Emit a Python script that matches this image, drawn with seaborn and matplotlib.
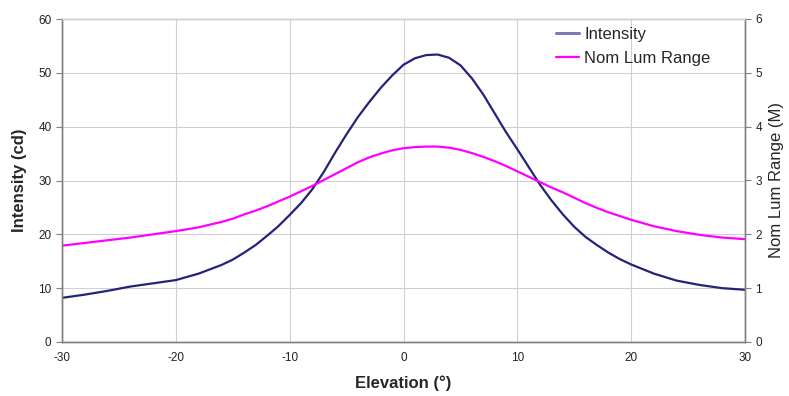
import matplotlib
matplotlib.use("Agg")
import matplotlib.pyplot as plt
import seaborn as sns
import pandas as pd
from matplotlib.lines import Line2D

elevation = [-30, -28, -26, -24, -22, -20, -18, -16, -15, -14, -13, -12, -11, -10, -9, -8, -7, -6, -5, -4,
             -3, -2, -1, 0, 1, 2, 3, 4, 5, 6, 7, 8, 9, 10, 11, 12, 13, 14, 15, 16, 17, 18, 19, 20,
             22, 24, 26, 28, 30]
intensity = [8.2, 8.8, 9.5, 10.3, 10.9, 11.5, 12.7, 14.3, 15.3, 16.6, 18.0, 19.7, 21.5, 23.6, 25.8, 28.4,
             31.6, 35.2, 38.6, 41.8, 44.6, 47.2, 49.5, 51.5, 52.7, 53.3, 53.4, 52.8, 51.4, 49.0, 46.0, 42.5,
             39.0, 35.8, 32.5, 29.2, 26.3, 23.7, 21.4, 19.5, 18.0, 16.6, 15.4, 14.4, 12.7, 11.4, 10.6, 10.0, 9.7]
lum_range = [1.79, 1.84, 1.89, 1.94, 2.00, 2.06, 2.13, 2.23, 2.29, 2.37, 2.44, 2.52, 2.61, 2.70, 2.80, 2.90,
             3.01, 3.12, 3.23, 3.34, 3.43, 3.50, 3.56, 3.60, 3.62, 3.63, 3.63, 3.61, 3.57, 3.51, 3.44, 3.36,
             3.27, 3.17, 3.07, 2.97, 2.87, 2.78, 2.68, 2.58, 2.49, 2.41, 2.34, 2.27, 2.15, 2.06, 1.99, 1.94, 1.91]
x_ticks = [-30, -20, -10, 0, 10, 20, 30]
left_ticks = [0, 10, 20, 30, 40, 50, 60]
right_ticks = [0, 1, 2, 3, 4, 5, 6]

sns.set_style("white")
plt.rcParams['font.family'] = ['Liberation Sans', 'DejaVu Sans']
plt.rcParams['axes.unicode_minus'] = False

navy = "#23237a"
pink = "#ff00ff"
grid_c = "#d0d0d0"
spine_c = "#808080"

fig = plt.figure(figsize=(7.89, 3.96), dpi=100)
ax = fig.add_axes([62/789, 54/396, (745-62)/789, (342-19)/396])
ax2 = ax.twinx()

df = pd.DataFrame({"x": elevation, "intensity": intensity, "lum": lum_range})
sns.lineplot(data=df, x="x", y="intensity", ax=ax, color=navy, lw=1.6, legend=False)
sns.lineplot(data=df, x="x", y="lum", ax=ax2, color=pink, lw=1.6, legend=False)
for a in (ax, ax2):
    for ln in a.get_lines():
        ln.set_solid_joinstyle('round')

ax.set_xlim(-30, 30)
ax.set_ylim(0, 60)
ax2.set_ylim(0, 6)
ax.set_xticks(x_ticks)
ax.set_yticks(left_ticks)
ax2.set_yticks(right_ticks)

ax.grid(True, color=grid_c, lw=0.8)
ax.set_axisbelow(True)
ax2.grid(False)

for a in (ax, ax2):
    for s in a.spines.values():
        s.set_color(spine_c)
        s.set_linewidth(1.0)
    a.spines['top'].set_color(grid_c)
    a.tick_params(axis='both', labelsize=8.5, colors="#222222", length=4, width=0.8, direction='out')
    a.tick_params(axis='both', color=spine_c)

ax.set_xlabel("Elevation (°)", fontsize=12, fontweight='bold', labelpad=8)
ax.set_ylabel("Intensity (cd)", fontsize=12, fontweight='bold', labelpad=8)
ax2.set_ylabel("Nom Lum Range (M)", fontsize=12, labelpad=5)

handles = [Line2D([], [], color="#7a7ab0", lw=2.2), Line2D([], [], color=pink, lw=1.6)]
ax2.legend(handles, ["Intensity", "Nom Lum Range"], loc='upper left', bbox_to_anchor=(0.718, 0.985),
           frameon=False, fontsize=12, handlelength=1.4, handletextpad=0.3, labelspacing=0.5,
           borderaxespad=0.0, borderpad=0.2)

fig.savefig("out.png", dpi=100)
